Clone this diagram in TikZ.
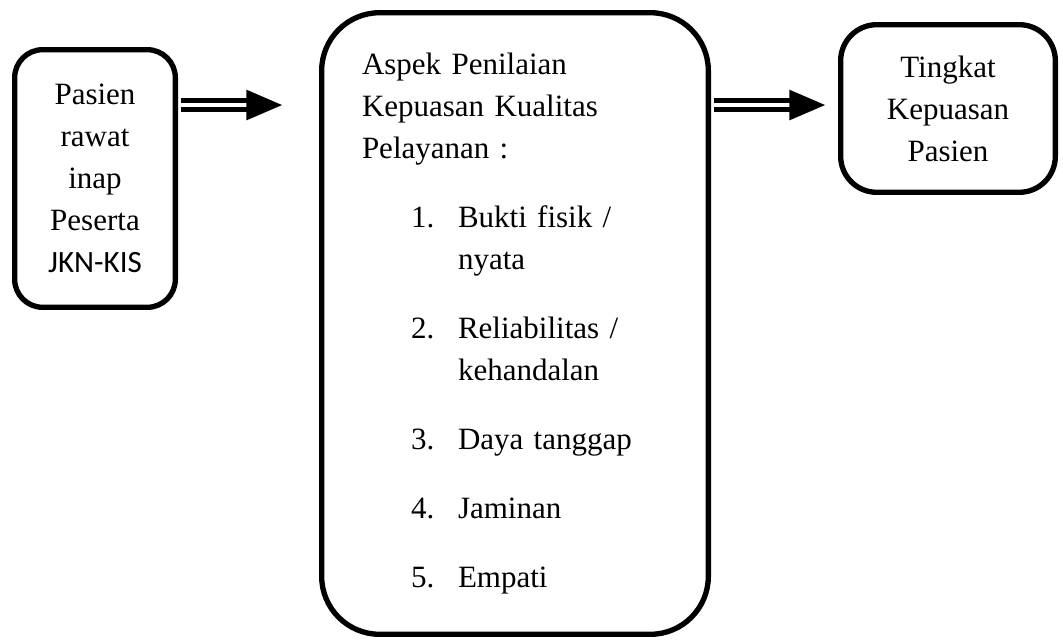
\documentclass[tikz,border=0pt]{standalone}
\usepackage{fontspec}
\setmainfont{Liberation Serif}
\newfontfamily\carlito{Carlito}
\usetikzlibrary{arrows.meta}

\tikzset{
  kotak/.style={draw, line width=4pt, rounded corners=#1, inner sep=0pt},
  kotak/.default=21pt,
  panah/.style={double, line width=3.75pt, double distance=3pt, shorten <=2pt,
    -{Triangle[length=27pt,width=22pt]}}
}

\begin{document}
\begin{tikzpicture}[x=0.75pt, y=-0.75pt, font=\fontsize{23.25pt}{31.5pt}\selectfont]
\useasboundingbox (0,0) rectangle (1063,639);

\node[kotak, minimum width=120.5pt, minimum height=193.2pt, align=center] (pasien) at (95,178.5)
  {Pasien\\rawat\\inap\\Peserta\\{\carlito JKN-KIS}};
\node[kotak=43.5pt, minimum width=290pt, minimum height=466.2pt, text width=229.5pt, align=left] (aspek) at (515,323.5)
  {Aspek Penilaian\\Kepuasan Kualitas\\Pelayanan :\\[20.25pt]
   \hspace*{36.75pt}\makebox[35.25pt][l]{1.}Bukti fisik /\\
   \hspace*{72pt}nyata\\[20.25pt]
   \hspace*{36.75pt}\makebox[35.25pt][l]{2.}Reliabilitas /\\
   \hspace*{72pt}kehandalan\\[20.25pt]
   \hspace*{36.75pt}\makebox[35.25pt][l]{3.}Daya tanggap\\[20.25pt]
   \hspace*{36.75pt}\makebox[35.25pt][l]{4.}Jaminan\\[20.25pt]
   \hspace*{36.75pt}\makebox[35.25pt][l]{5.}Empati};
\node[kotak=27pt, minimum width=161pt, minimum height=125.7pt, align=center] (tingkat) at (948,108.5)
  {Tingkat\\Kepuasan\\Pasien};

\coordinate (jalur) at ([yshift=2.6pt]tingkat.west);
\draw[panah, shorten >=27.5pt] (pasien.east |- jalur) -- (aspek.west |- jalur);
\draw[panah, shorten >=9.5pt] (aspek.east |- jalur) -- (jalur);
\end{tikzpicture}
\end{document}
